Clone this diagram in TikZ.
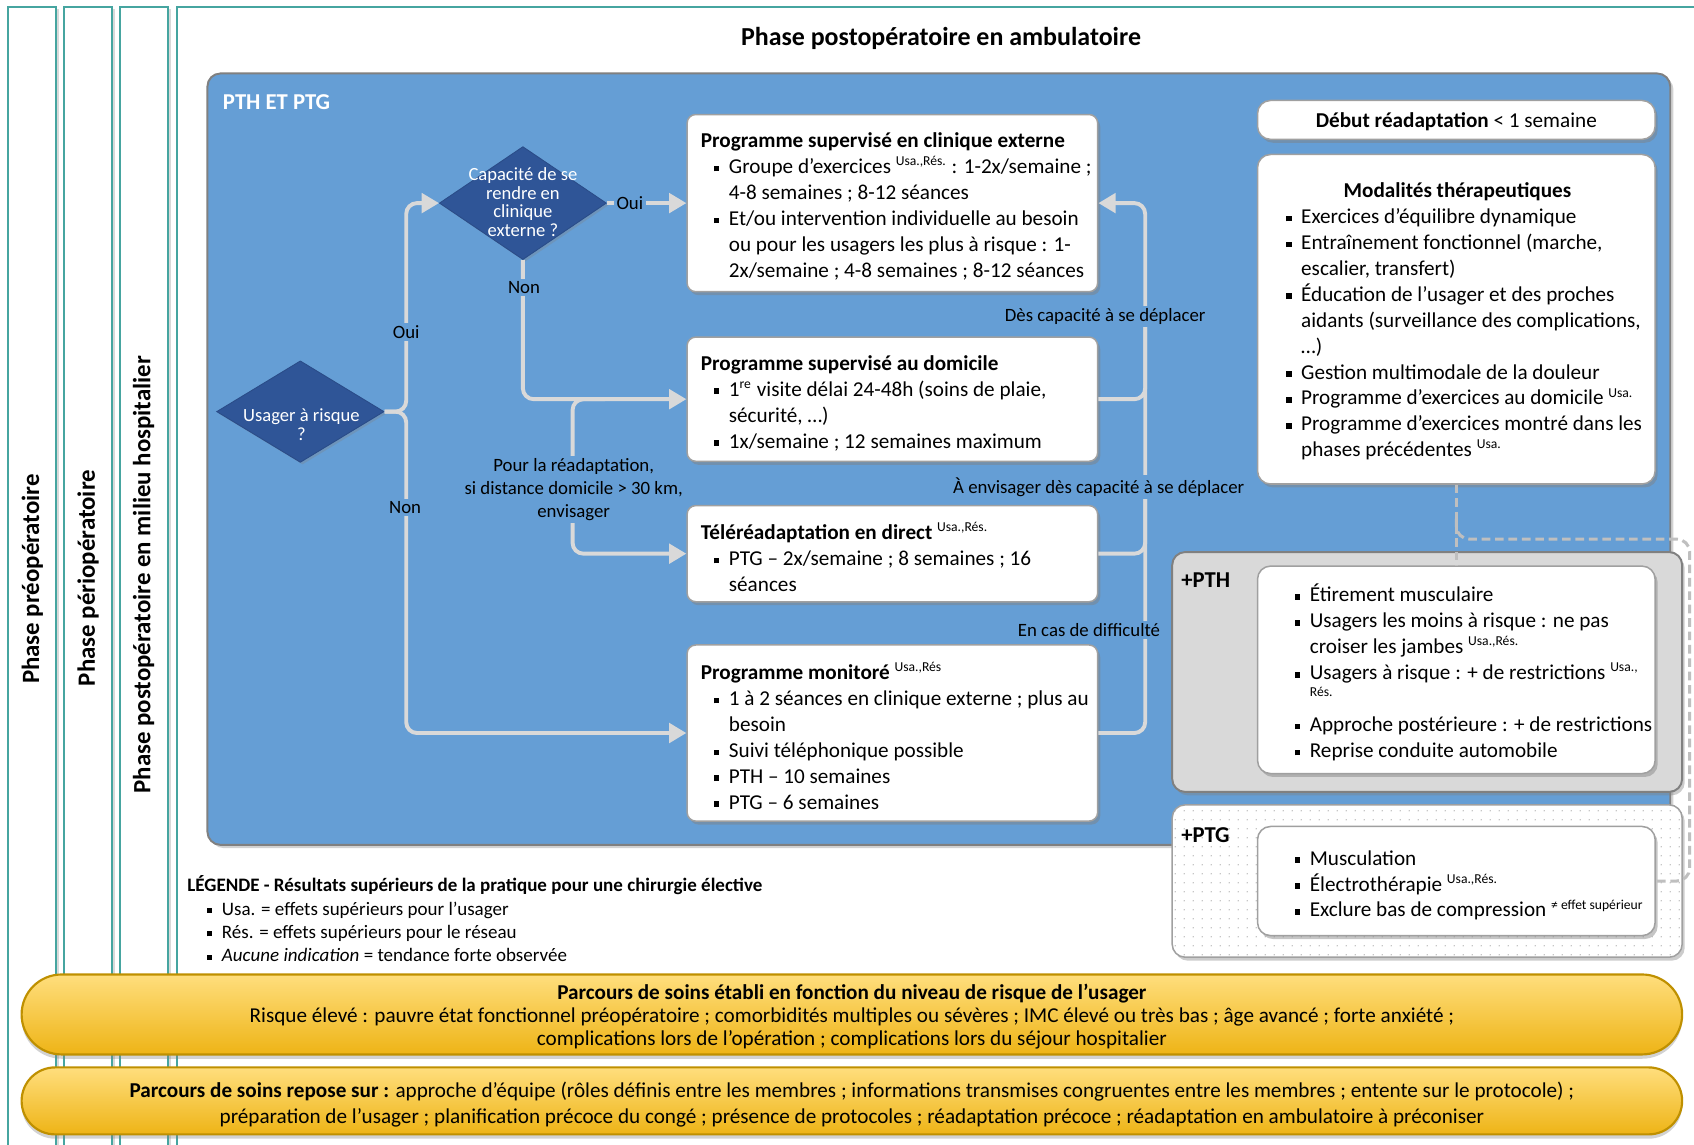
\documentclass[tikz,border=0pt]{standalone}
\usepackage{fontspec}
\setmainfont{Carlito}
\usetikzlibrary{arrows.meta,shapes.geometric,shadows,patterns.meta,calc}
\definecolor{teal1}{RGB}{70,165,160}
\definecolor{panelblue}{RGB}{101,158,213}
\definecolor{dblue}{RGB}{47,85,151}
\definecolor{conng}{RGB}{217,217,217}
\definecolor{boxline}{RGB}{160,160,160}
\definecolor{pthfill}{RGB}{217,217,217}
\definecolor{pthline}{RGB}{128,128,128}
\definecolor{ytop}{RGB}{255,222,125}
\definecolor{ybot}{RGB}{238,180,22}
\definecolor{yline}{RGB}{191,144,0}
\definecolor{dashg}{RGB}{191,191,191}
\newcommand\fs[2]{\fontsize{#1}{#2}\selectfont}
\newcommand\bul{\hspace*{6pt}\makebox[7pt][l]{\rule[1pt]{2.6pt}{2.6pt}}}
\newcommand\bulL{\hspace*{9pt}\makebox[7pt][l]{\rule[1pt]{2.3pt}{2.3pt}}}
\newcommand\ind{\hspace*{13pt}}
\newcommand\sps[1]{\textsuperscript{\fs{6.3}{7}#1}}
\tikzset{
  colbox/.style={draw=teal1, line width=1pt, fill=white, drop shadow={shadow xshift=1.5pt, shadow yshift=-1pt, opacity=0.3}},
  panel/.style={draw=pthline, line width=0.9pt, fill=panelblue, rounded corners=6pt, inner sep=0pt, drop shadow={shadow xshift=1.5pt, shadow yshift=-1.5pt, opacity=0.35}},
  wbox/.style={draw=boxline, line width=0.7pt, fill=white, rounded corners=4pt, inner sep=0pt, drop shadow={shadow xshift=1.2pt, shadow yshift=-1.6pt, opacity=0.45}},
  txt/.style={font=\fs{9.8}{12}, align=left, inner sep=0pt, anchor=west},
  dia/.style={shape=diamond, fill=dblue, draw=dblue!90!black, line width=0.4pt, inner sep=0pt, drop shadow={shadow xshift=1pt, shadow yshift=-1pt, opacity=0.3}},
  diat/.style={text=white, font=\fs{8.6}{8.7}, align=center, inner sep=0pt},
  conn/.style={draw=conng, line width=1.8pt, rounded corners=5pt, -{Triangle[length=8pt,width=9pt]}},
  connl/.style={draw=conng, line width=1.8pt, rounded corners=5pt},
  lab/.style={fill=panelblue, inner sep=1.2pt, font=\fs{8.7}{10.5}, align=center},
  dsh/.style={draw=dashg, line width=1.4pt, dash pattern=on 4pt off 2.2pt, rounded corners=6pt},
  pill/.style={draw=yline, line width=1pt, top color=ytop, bottom color=ybot, rounded corners=#1, minimum width=768.5pt, inner sep=0pt, drop shadow={shadow xshift=0pt, shadow yshift=-2pt, opacity=0.35}},
  coltxt/.style={rotate=90, font=\fs{11.5}{13}\bfseries, inner sep=0pt},
  tag/.style={font=\fs{10.5}{12}\bfseries, anchor=west, inner sep=0pt}
}
\begin{document}
\begin{tikzpicture}[x=0.5pt,y=-0.5pt]
\useasboundingbox (0,0) rectangle (1568,1059);
\clip (0,0) rectangle (1568,1059);
% phase columns
\path[colbox] (7.4,6.5) rectangle (51.8,1100);
\path[colbox] (59.2,6.5) rectangle (103.7,1100);
\path[colbox] (111,6.5) rectangle (155.5,1100);
\path[colbox] (164,6.5) rectangle (1620,1100);
\node[coltxt] (c1t) at (30,536) {Phase préopératoire};
\node[coltxt] (c2t) at (81.5,535) {Phase périopératoire};
\node[coltxt] (c3t) at (133,532) {Phase postopératoire en milieu hospitalier};
\node[font=\fs{12}{14}\bfseries] (title) at (871,36) {Phase postopératoire en ambulatoire};
% blue panel
\node[panel, minimum width=677pt, minimum height=357pt] (panel) at (869,425) {};
\node[tag, text=white] (ptitle) at (206,95) {PTH ET PTG};
% diamonds
\node[dia, minimum width=77.5pt, minimum height=47pt] (d1) at (278,381) {};
\node[dia, minimum width=77.3pt, minimum height=52.3pt] (d2) at (484,188) {};
% boxes
\node[wbox, minimum width=190pt, minimum height=82pt] (b1) at (826,188) {};
\node[wbox, minimum width=190pt, minimum height=57.5pt] (b2) at (826,369.5) {};
\node[wbox, minimum width=190pt, minimum height=44.5pt] (b3) at (826,512.5) {};
\node[wbox, minimum width=190pt, minimum height=81.5pt] (b4) at (826,678.5) {};
% connectors left
\coordinate (jt) at (376,188);
\coordinate (jb) at (376,678.5);
\coordinate (bs) at (560,369.5);
\coordinate (bt) at (530,512.5);
\draw[conn] (d1.east) -| (jt) -- (d2.west);
\draw[conn] (d1.east) -| (jb) -- (b4.west);
\draw[conn] (d2.east) -- (b1.west);
\draw[conn] (d2.south) |- (b2.west);
\draw[conn] (bs) -| (bt) -- (b3.west);
% connectors right
\coordinate (rt) at (1060,188);
\coordinate (r2) at (1060,300);
\coordinate (r3) at (1060,450);
\draw[conn] (b4.east) -| (rt) -- (b1.east);
\draw[connl] (b2.east) -| (r2);
\draw[connl] (b3.east) -| (r3);
% diamond texts
\node[diat] (d1t) at (279,393) {Usager à risque\\?};
\node[diat] (d2t) at (484,187) {Capacité de se\\rendre en\\clinique\\externe ?};
% labels
\node[lab] (l1) at (376,307) {Oui};
\node[lab] (l2) at (375,470) {Non};
\node[lab] (l3) at (583,188) {Oui};
\node[lab] (l4) at (485,266) {Non};
\node[lab] (l5) at (531,453) {Pour la réadaptation,\\si distance domicile > 30 km,\\envisager};
\node[lab] (l6) at (1023,293) {Dès capacité à se déplacer};
\node[lab] (l7) at (1017,451) {À envisager dès capacité à se déplacer};
\node[lab] (l8) at (1008,583) {En cas de difficulté};
% box texts
\node[txt] (b1t) at ($(b1.west)+(6.5pt,-1.5pt)$) {\textbf{Programme supervisé en clinique externe}\\
\bul Groupe d’exercices \sps{Usa.,Rés.} : 1-2x/semaine ;\\
\ind 4-8 semaines ; 8-12 séances\\
\bul Et/ou intervention individuelle au besoin\\
\ind ou pour les usagers les plus à risque : 1-\\
\ind 2x/semaine ; 4-8 semaines ; 8-12 séances};
\node[txt] (b2t) at ($(b2.west)+(6.5pt,-1.8pt)$) {\textbf{Programme supervisé au domicile}\\
\bul 1\sps{re} visite délai 24-48h (soins de plaie,\\
\ind sécurité, …)\\
\bul 1x/semaine ; 12 semaines maximum};
\node[txt] (b3t) at ($(b3.west)+(6.5pt,-1.5pt)$) {\textbf{Téléréadaptation en direct} \sps{Usa.,Rés.}\\
\bul PTG – 2x/semaine ; 8 semaines ; 16\\
\ind séances};
\node[txt] (b4t) at ($(b4.west)+(6.5pt,-1.3pt)$) {\textbf{Programme monitoré} \sps{Usa.,Rés}\\
\bul 1 à 2 séances en clinique externe ; plus au\\
\ind besoin\\
\bul Suivi téléphonique possible\\
\bul PTH – 10 semaines\\
\bul PTG – 6 semaines};
% right column
\node[wbox, minimum width=184pt, minimum height=18pt, rounded corners=6pt] (deb) at (1348,111) {};
\node[font=\fs{9.8}{12}, inner sep=0pt] (debt) at (1348,113) {\textbf{Début réadaptation} < 1 semaine};
\node[wbox, minimum width=184pt, minimum height=152.5pt, rounded corners=6pt] (mod) at (1348,295.5) {};
\node[font=\fs{9.8}{12}\bfseries, inner sep=0pt] (modh) at (1349,177) {Modalités thérapeutiques};
\node[txt] (modt) at (1178,309.5) {\bul Exercices d’équilibre dynamique\\
\bul Entraînement fonctionnel (marche,\\
\ind escalier, transfert)\\
\bul Éducation de l’usager et des proches\\
\ind aidants (surveillance des complications,\\
\ind …)\\
\bul Gestion multimodale de la douleur\\
\bul Programme d’exercices au domicile \sps{Usa.}\\
\bul Programme d’exercices montré dans les\\
\ind phases précédentes \sps{Usa.}};
% +PTH
\node[draw=pthline, fill=pthfill, line width=0.9pt, rounded corners=6pt, minimum width=236pt, minimum height=111pt, inner sep=0pt, drop shadow={shadow xshift=1.2pt, shadow yshift=-1.6pt, opacity=0.4}] (pth) at (1321,622) {};
\node[tag] (pthl) at (1093,537) {+PTH};
\node[wbox, minimum width=184pt, minimum height=96pt, rounded corners=6pt] (pthin) at (1348,620) {};
\node[txt] (ptht) at (1186,622.5) {\bul Étirement musculaire\\
\bul Usagers les moins à risque : ne pas\\
\ind croiser les jambes \sps{Usa.,Rés.}\\
\bul Usagers à risque : + de restrictions \sps{Usa.,}\\[-4pt]
\ind{\fs{6.3}{7}Rés.}\\[4pt]
\bul Approche postérieure : + de restrictions\\
\bul Reprise conduite automobile};
% +PTG
\node[draw=boxline, fill=white, line width=0.7pt, rounded corners=6pt, minimum width=236pt, minimum height=70.5pt, inner sep=0pt, drop shadow={shadow xshift=1.2pt, shadow yshift=-1.6pt, opacity=0.4}, postaction={pattern={Dots[distance=4pt,radius=0.35pt]}, pattern color=gray!60}] (ptg) at (1321,815.5) {};
\node[tag] (ptgl) at (1093,773) {+PTG};
\node[wbox, minimum width=184pt, minimum height=50.5pt, rounded corners=6pt] (ptgin) at (1348,815.5) {};
\node[txt] (ptgt) at (1186,819.5) {\bul Musculation\\
\bul Électrothérapie \sps{Usa.,Rés.}\\
\bul Exclure bas de compression \sps{≠ effet supérieur}};
% dashed link
\coordinate (dj) at (1348,480);
\coordinate (dr) at (1564,499);
\draw[dsh] (mod.south) -- (pthin.north);
\draw[dsh] (dj) |- (dr) |- (ptgin.east);
% legend
\node[font=\fs{8.8}{10.85}, align=left, anchor=west, inner sep=0pt] (leg) at (173,850.5) {\textbf{LÉGENDE - Résultats supérieurs de la pratique pour une chirurgie élective}\\
\bulL Usa. = effets supérieurs pour l’usager\\
\bulL Rés. = effets supérieurs pour le réseau\\
\bulL \textit{Aucune indication} = tendance forte observée};
% pills
\node[pill=18.5pt, minimum height=37pt] (p1) at (788.5,939) {};
\node[font=\fs{9.8}{10.75}, align=center, inner sep=0pt] (p1t) at (788.5,941) {\textbf{Parcours de soins établi en fonction du niveau de risque de l’usager}\\
Risque élevé : pauvre état fonctionnel préopératoire ; comorbidités multiples ou sévères ; IMC élevé ou très bas ; âge avancé ; forte anxiété ;\\
complications lors de l’opération ; complications lors du séjour hospitalier};
\node[pill=15.5pt, minimum height=31pt] (p2) at (788.5,1019) {};
\node[font=\fs{9.8}{12}, align=center, inner sep=0pt] (p2t) at (788.5,1022) {\textbf{Parcours de soins repose sur :} approche d’équipe (rôles définis entre les membres ; informations transmises congruentes entre les membres ; entente sur le protocole) ;\\
préparation de l’usager ; planification précoce du congé ; présence de protocoles ; réadaptation précoce ; réadaptation en ambulatoire à préconiser};
\end{tikzpicture}
\end{document}
